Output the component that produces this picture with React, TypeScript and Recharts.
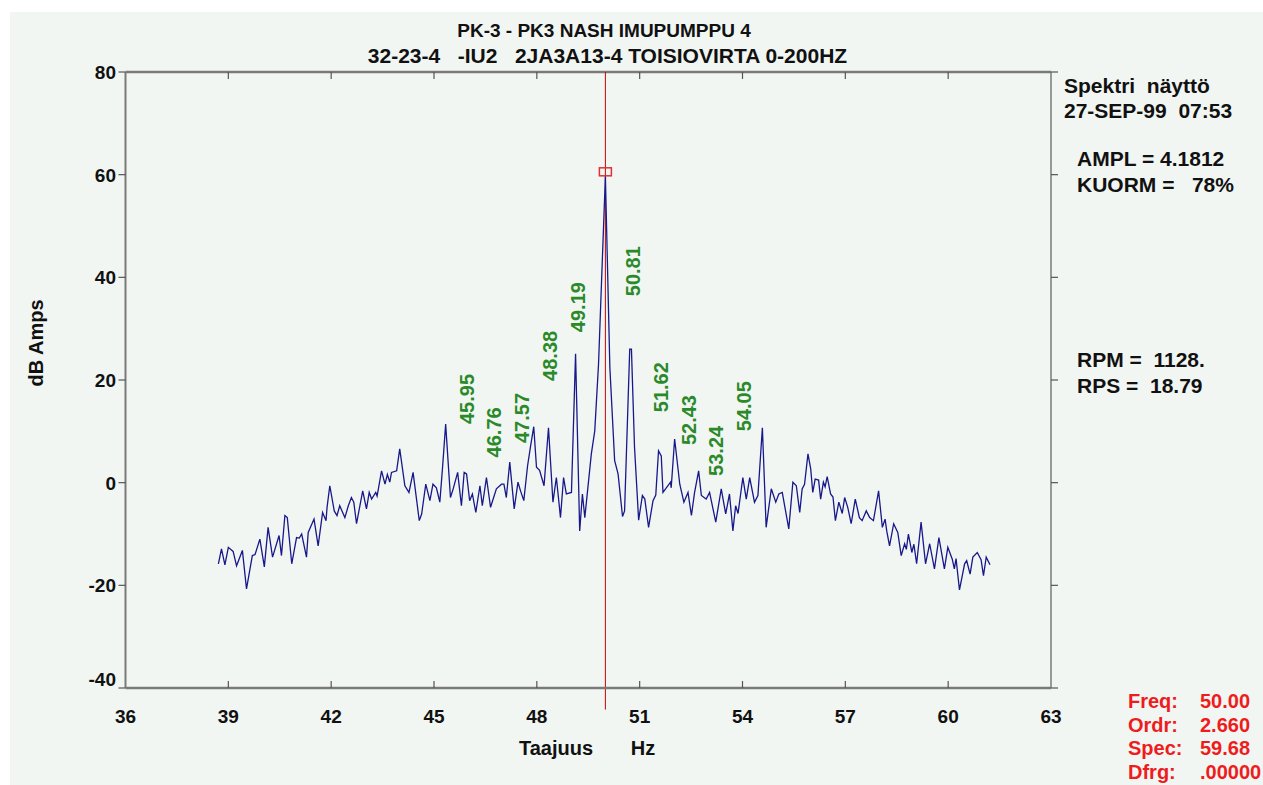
import { LineChart, Line, XAxis, YAxis, ReferenceLine, ReferenceDot } from 'recharts';

// spectrum, Hz / dB
const freqHz = [
  38.71, 38.8, 38.9, 39.0, 39.14, 39.24, 39.41, 39.53, 39.7, 39.78, 39.92, 40.05, 40.16, 40.29, 40.48, 40.55,
  40.65, 40.72, 40.85, 40.99, 41.07, 41.14, 41.28, 41.33, 41.5, 41.62, 41.75, 41.85, 41.88, 41.96, 42.09, 42.17,
  42.25, 42.4, 42.5, 42.59, 42.66, 42.74, 42.92, 43.03, 43.11, 43.18, 43.3, 43.34, 43.47, 43.57, 43.64, 43.71,
  43.76, 43.91, 44.0, 44.15, 44.27, 44.39, 44.57, 44.64, 44.76, 44.88, 44.97, 45.07, 45.17, 45.25, 45.34, 45.48,
  45.56, 45.69, 45.8, 45.88, 45.95, 46.04, 46.12, 46.22, 46.34, 46.41, 46.53, 46.65, 46.82, 46.97, 47.04, 47.11,
  47.21, 47.34, 47.45, 47.52, 47.62, 47.73, 47.82, 47.91, 47.99, 48.08, 48.21, 48.34, 48.47, 48.57, 48.69, 48.78,
  48.86, 49.01, 49.13, 49.25, 49.33, 49.4, 49.59, 49.69, 49.8, 50.0, 50.13, 50.27, 50.37, 50.5, 50.56, 50.71,
  50.76, 50.85, 50.97, 51.08, 51.15, 51.26, 51.39, 51.47, 51.55, 51.63, 51.68, 51.9, 51.92, 52.02, 52.17, 52.29,
  52.41, 52.51, 52.6, 52.72, 52.8, 52.94, 53.04, 53.22, 53.38, 53.51, 53.62, 53.72, 53.8, 53.87, 54.01, 54.11,
  54.21, 54.35, 54.45, 54.58, 54.69, 54.84, 54.97, 55.06, 55.16, 55.35, 55.47, 55.57, 55.67, 55.74, 55.81, 55.91,
  55.99, 56.05, 56.12, 56.22, 56.28, 56.36, 56.41, 56.47, 56.57, 56.64, 56.71, 56.81, 56.91, 56.98, 57.07, 57.17,
  57.29, 57.41, 57.49, 57.61, 57.71, 57.82, 57.97, 58.08, 58.16, 58.21, 58.29, 58.41, 58.53, 58.63, 58.73, 58.78,
  58.84, 58.94, 59.0, 59.08, 59.21, 59.34, 59.46, 59.6, 59.73, 59.89, 59.99, 60.12, 60.18, 60.23, 60.33, 60.48,
  60.54, 60.64, 60.72, 60.85, 60.96, 61.03, 61.11, 61.22,
];

const ampDb = [
  -15.8, -12.9, -16.0, -12.6, -13.4, -16.2, -13.2, -20.7, -14.2, -14.0, -11.0, -16.4, -8.7, -14.5, -10.3, -14.2,
  -6.4, -6.8, -15.8, -10.7, -10.8, -10.0, -14.5, -9.7, -7.1, -12.3, -5.8, -7.4, -4.8, -0.6, -5.5, -6.4,
  -4.5, -6.8, -4.5, -2.9, -3.8, -8.0, -1.6, -5.1, -1.9, -3.2, -1.9, -2.6, 2.3, -0.3, 1.6, 0.1,
  2.0, 2.3, 6.6, -0.6, -1.9, 2.0, -7.4, -6.1, -0.3, -3.5, -0.3, -1.0, -3.8, 3.0, 11.4, -2.9,
  -1.2, 2.0, -4.5, 2.0, 1.7, -3.5, -2.2, -5.8, -0.6, -4.5, 1.0, -4.8, -1.2, -0.3, -0.3, -2.9,
  4.0, -5.1, 0.1, -1.5, -3.5, 3.3, 7.2, 10.9, 3.0, 2.4, -0.6, 10.7, -3.8, 1.0, -6.8, 1.0,
  -2.2, -1.9, 25.1, -9.4, -2.2, -6.8, 5.6, 10.1, 23.1, 59.68, 22.5, 4.3, 1.7, -6.6, -5.5, 26.0,
  26.0, 6.9, -7.3, -2.5, -3.2, -8.7, -3.5, -2.4, 6.2, 5.2, -1.9, 0.1, -1.0, 8.5, -0.3, -3.8,
  -1.9, -6.4, -2.0, 2.3, -2.5, -3.2, -1.9, -7.7, -1.2, -6.1, -2.2, -9.4, -4.5, -6.0, 1.0, -3.2,
  1.0, -3.8, -2.5, 10.7, -8.7, -1.2, -3.8, -2.2, -1.9, -9.0, 0.1, -0.6, -5.8, -1.2, -0.3, 5.6,
  2.7, -1.9, 0.7, 0.5, -3.2, 0.1, -0.8, 1.2, -2.2, -2.8, -7.4, -3.8, -6.0, -2.9, -4.8, -8.0,
  -3.2, -6.8, -7.4, -5.5, -6.8, -7.4, -1.6, -8.7, -7.1, -9.5, -12.3, -8.0, -9.7, -14.2, -11.9, -13.0,
  -10.0, -13.6, -12.0, -15.8, -7.7, -15.8, -11.9, -16.8, -10.7, -16.8, -12.6, -14.9, -16.8, -14.8, -20.9, -15.8,
  -15.2, -17.8, -14.5, -13.6, -15.0, -18.1, -14.5, -16.0,
];

const xTicks = [36, 39, 42, 45, 48, 51, 54, 57, 60, 63];
const yTicks = [-40, -20, 0, 20, 40, 60, 80];

// sideband markers around the supply frequency
const sidebandHz = [45.95, 46.76, 47.57, 48.38, 49.19, 50.81, 51.62, 52.43, 53.24, 54.05];
const sidebandLabelDb = [16.3, 9.8, 12.6, 24.7, 34.2, 41.2, 18.6, 12.2, 6.2, 14.9];

const cursorHz = 50.0;
const cursorDb = 59.68;

const titleLines = ['PK-3 - PK3 NASH IMUPUMPPU 4', '32-23-4   -IU2   2JA3A13-4 TOISIOVIRTA 0-200HZ'];
const headerLines = ['Spektri  näyttö', '27-SEP-99  07:53'];
const loadLines = ['AMPL = 4.1812', 'KUORM =   78%'];
const speedLines = ['RPM =  1128.', 'RPS =  18.79'];
const readoutNames = ['Freq:', 'Ordr:', 'Spec:', 'Dfrg:'];
const readoutValues = ['50.00', '2.660', '59.68', '.00000'];

const spectrum = freqHz.map((f, i) => ({ f, db: ampDb[i] }));

const W = 1263;
const H = 785;
const PLOT = { left: 125.5, right: 1051, top: 72, bottom: 688 };
const FONT = '"Liberation Sans", Arial, Helvetica, sans-serif';
const FRAME = '#7a7a7a';
const TICK = '#555555';

function XTick(props: any) {
  const { x, payload } = props;
  const v = payload.value;
  const inner = v !== xTicks[0] && v !== xTicks[xTicks.length - 1];
  return (
    <g>
      {inner && <line x1={x} x2={x} y1={PLOT.bottom} y2={PLOT.bottom - 7} stroke={TICK} strokeWidth={1.2} />}
      {inner && <line x1={x} x2={x} y1={PLOT.top} y2={PLOT.top + 7} stroke={TICK} strokeWidth={1.2} />}
      <text x={x} y={723} textAnchor="middle" fontFamily={FONT} fontWeight="bold" fontSize={19} fill="#111">
        {v}
      </text>
    </g>
  );
}

function YTick(props: any) {
  const { y, payload } = props;
  const v = payload.value;
  const dy = v === yTicks[0] ? -9 : 0;
  return (
    <g>
      <line x1={PLOT.left - 7} x2={PLOT.left} y1={y} y2={y} stroke={TICK} strokeWidth={1.2} />
      <line x1={PLOT.right} x2={PLOT.right + 7} y1={y} y2={y} stroke={TICK} strokeWidth={1.2} />
      <text x={116} y={y + 7 + dy} textAnchor="end" fontFamily={FONT} fontWeight="bold" fontSize={19} fill="#111">
        {v}
      </text>
    </g>
  );
}

function SidebandLabel(props: any) {
  const { cx, cy, text } = props;
  return (
    <text
      x={cx}
      y={cy}
      transform={`rotate(-90 ${cx} ${cy})`}
      textAnchor="middle"
      dominantBaseline="central"
      fontFamily={FONT}
      fontWeight="bold"
      fontSize={20}
      fill="#2a8a2a"
    >
      {text}
    </text>
  );
}

const txt = { fontFamily: FONT, fontWeight: 'bold' as const, whiteSpace: 'pre' as const };

export default function App() {
  return (
    <div style={{ position: 'absolute', left: 0, top: 0, width: W, height: H, background: '#ffffff', overflow: 'hidden' }}>
      <div style={{ position: 'absolute', left: 10, top: 12, width: W - 10, height: H - 12, background: '#f2f6f3' }} />
      <div style={{ position: 'absolute', left: 0, top: 0 }}>
        <LineChart
          width={W}
          height={H}
          data={spectrum}
          margin={{ top: PLOT.top, right: W - PLOT.right, bottom: H - PLOT.bottom - 30, left: PLOT.left - 40 }}
        >
          <XAxis
            dataKey="f"
            type="number"
            domain={[36, 63]}
            ticks={xTicks}
            interval={0}
            height={30}
            allowDataOverflow
            tickLine={false}
            axisLine={{ stroke: FRAME, strokeWidth: 2.5 }}
            tick={(p: any) => <XTick {...p} />}
          />
          <YAxis
            type="number"
            domain={[-40, 80]}
            ticks={yTicks}
            interval={0}
            width={40}
            allowDataOverflow
            tickLine={false}
            axisLine={{ stroke: FRAME, strokeWidth: 2 }}
            tick={(p: any) => <YTick {...p} />}
          />
          <ReferenceLine y={80} stroke={FRAME} strokeWidth={2.5} />
          <ReferenceLine x={63} stroke={FRAME} strokeWidth={1.5} />
          <ReferenceLine
            segment={[
              { x: cursorHz, y: 80 },
              { x: cursorHz, y: -44.2 },
            ]}
            stroke="#c80000"
            strokeWidth={1}
            ifOverflow="visible"
          />
          <Line
            type="linear"
            dataKey="db"
            stroke="#18188a"
            strokeWidth={1.3}
            dot={false}
            isAnimationActive={false}
          />
          <ReferenceDot
            x={cursorHz}
            y={cursorDb}
            r={0}
            shape={(p: any) => (
              <rect x={p.cx - 6} y={p.cy - 8.5} width={12} height={8} fill="none" stroke="#e03030" strokeWidth={1.5} />
            )}
          />
          {sidebandHz.map((f, i) => (
            <ReferenceDot
              key={f}
              x={f}
              y={sidebandLabelDb[i]}
              r={0}
              shape={(p: any) => <SidebandLabel {...p} text={f.toFixed(2)} />}
            />
          ))}
        </LineChart>
      </div>
      <svg width={W} height={H} style={{ position: 'absolute', left: 0, top: 0, pointerEvents: 'none' }}>
        <text x={604} y={37} textAnchor="middle" fontSize={19} fill="#111" style={txt} xmlSpace="preserve">
          {titleLines[0]}
        </text>
        <text x={607.5} y={62.5} textAnchor="middle" fontSize={21} fill="#111" style={txt} xmlSpace="preserve">
          {titleLines[1]}
        </text>
        {headerLines.map((s, i) => (
          <text key={s} x={1064} y={93 + i * 24.5} fontSize={21} fill="#111" style={txt} xmlSpace="preserve">
            {s}
          </text>
        ))}
        {loadLines.map((s, i) => (
          <text key={s} x={1077} y={166 + i * 25.5} fontSize={21} fill="#111" style={txt} xmlSpace="preserve">
            {s}
          </text>
        ))}
        {speedLines.map((s, i) => (
          <text key={s} x={1077} y={367 + i * 25.5} fontSize={21} fill="#111" style={txt} xmlSpace="preserve">
            {s}
          </text>
        ))}
        {readoutNames.map((s, i) => (
          <g key={s}>
            <text x={1128} y={708 + i * 23.7} fontSize={20} fill="#ee1c1c" style={txt}>
              {s}
            </text>
            <text x={1200} y={708 + i * 23.7} fontSize={20} fill="#ee1c1c" style={txt}>
              {readoutValues[i]}
            </text>
          </g>
        ))}
        <text
          x={43}
          y={343}
          transform="rotate(-90 43 343)"
          textAnchor="middle"
          fontSize={20}
          fill="#111"
          style={txt}
        >
          dB Amps
        </text>
        <text x={556} y={755} textAnchor="middle" fontSize={20} fill="#111" style={txt}>
          Taajuus
        </text>
        <text x={643} y={755} textAnchor="middle" fontSize={20} fill="#111" style={txt}>
          Hz
        </text>
      </svg>
    </div>
  );
}
